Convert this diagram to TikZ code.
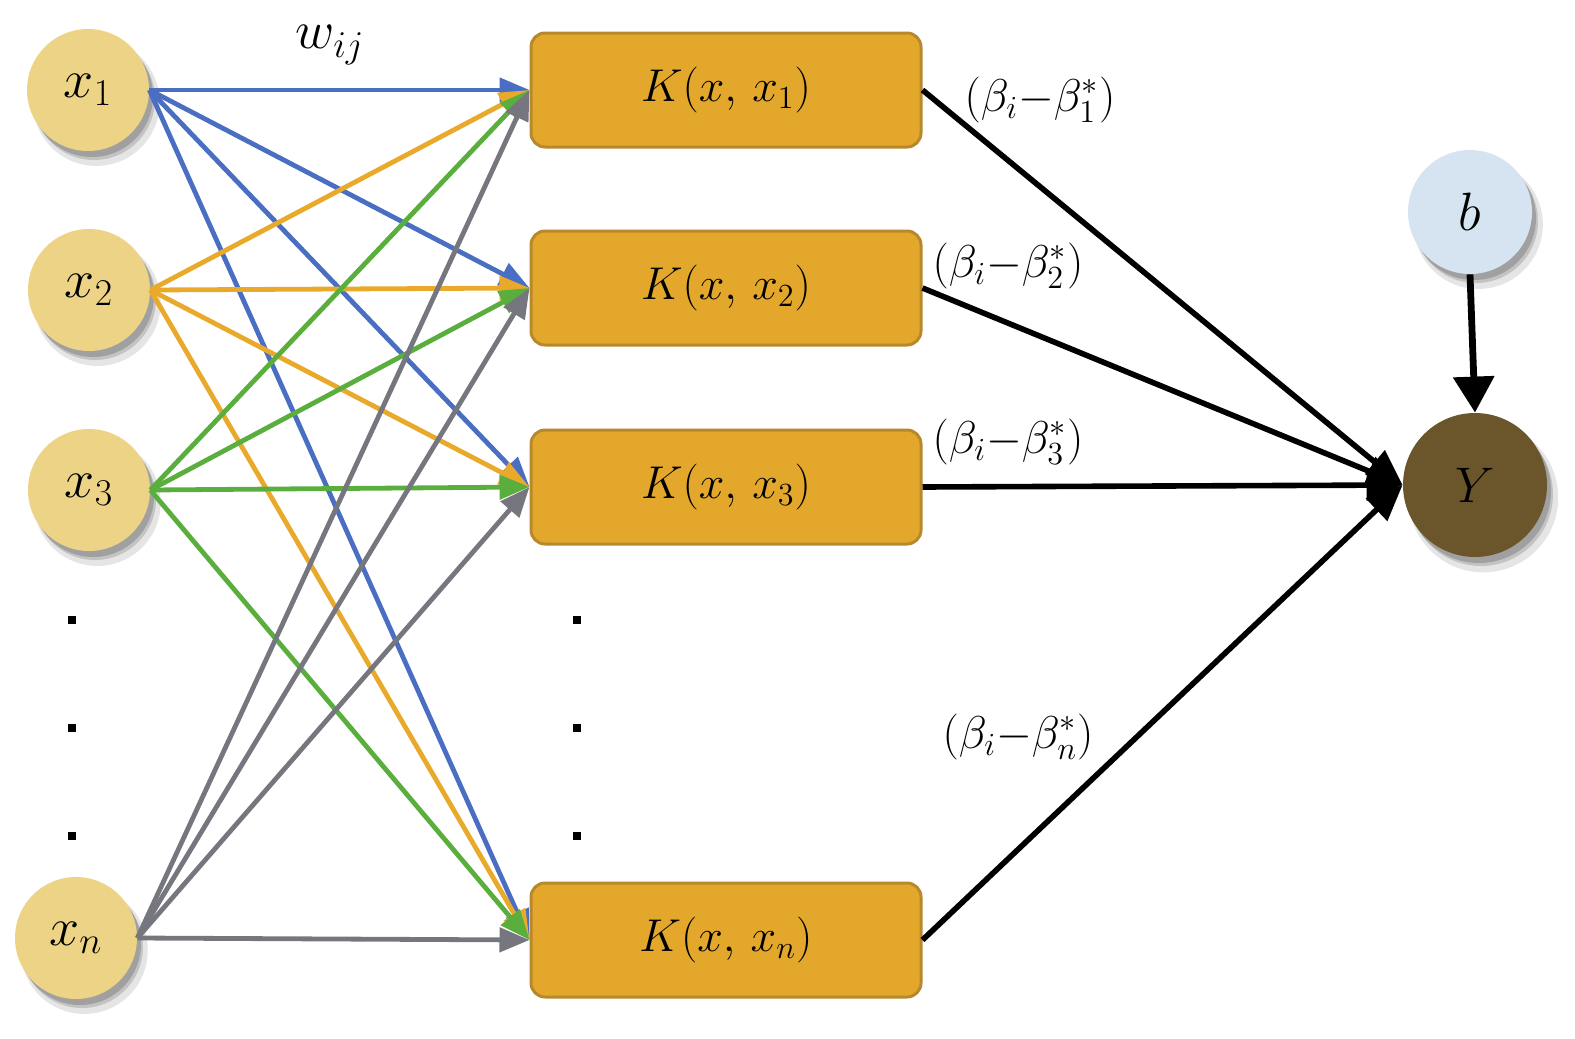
\RequirePackage{fix-cm}
\documentclass[tikz,border=0pt]{standalone}
\usetikzlibrary{arrows.meta,shadows}
\definecolor{inC}{HTML}{EDD385}
\definecolor{boxC}{HTML}{E3A82B}
\definecolor{boxB}{HTML}{B8892C}
\definecolor{yC}{HTML}{6B552A}
\definecolor{bC}{HTML}{D5E4F0}
\definecolor{eBlue}{HTML}{4A6EC2}
\definecolor{eOrange}{HTML}{E9A92B}
\definecolor{eGreen}{HTML}{5AAE3D}
\definecolor{eGrey}{HTML}{76767E}
\tikzset{
  soft/.style={drop shadow={shadow xshift=4pt,shadow yshift=-6pt,opacity=0.10,fill=black,shadow scale=1.04},
               drop shadow={shadow xshift=3pt,shadow yshift=-4.5pt,opacity=0.15,fill=black},
               drop shadow={shadow xshift=2pt,shadow yshift=-3pt,opacity=0.18,fill=black}},
  innode/.style={circle,fill=inC,minimum size=61pt,inner sep=0pt,soft,font=\fontsize{27}{32}\selectfont},
  knode/.style={rectangle,rounded corners=7pt,fill=boxC,draw=boxB,line width=1.5pt,
                minimum width=195pt,minimum height=57pt,inner sep=0pt},
  ynode/.style={circle,fill=yC,minimum size=72pt,inner sep=0pt,soft,font=\fontsize{25}{30}\selectfont},
  bnode/.style={circle,fill=bC,minimum size=62pt,inner sep=0pt,soft,font=\fontsize{27}{32}\selectfont},
  edge/.style={line width=2.4pt,-{Triangle[length=15pt,width=12pt]}},
  bedge/.style={line width=2.8pt,black,-{Triangle[length=18pt,width=15pt]}},
  lbl/.style={inner sep=0pt},
  dotm/.style={fill=black,minimum size=4pt,inner sep=0pt,rectangle},
}
\begin{document}
\begin{tikzpicture}[x=0.5pt,y=-0.5pt,font=\fontsize{23}{28}\selectfont]
\useasboundingbox (0,0) rectangle (1575,1039);
% input nodes
\node[innode] (x1) at (88,90) {$x_1$};
\node[innode] (x2) at (89,290) {$x_2$};
\node[innode] (x3) at (89,490) {$x_3$};
\node[innode] (xn) at (76,938) {$x_n$};
% kernel boxes
\node[knode] (K1) at (726,90) {$K(x,\,x_1)$};
\node[knode] (K2) at (726,288) {$K(x,\,x_2)$};
\node[knode] (K3) at (726,487) {$K(x,\,x_3)$};
\node[knode] (Kn) at (726,940) {$K(x,\,x_n)$};
% output and bias
\node[bnode] (b) at (1470,212) {$b$};
\node[ynode] (Y) at (1475,485) {$Y$};
% dots
\foreach \yy [count=\i] in {620,728,836}{
  \node[dotm] (dl\i) at (72,\yy) {};
  \node[dotm] (dm\i) at (577,\yy) {};
}
% weight edges
\foreach \s/\c in {x1/eBlue,x2/eOrange,x3/eGreen,xn/eGrey}{
  \foreach \t in {K1,K2,K3,Kn}{
    \draw[edge,\c] (\s.east) -- (\t.west);
  }
}
% output edges
\draw[bedge] (K1.east) -- (Y.west);
\draw[bedge] (K2.east) -- (Y.west);
\draw[bedge] (K3.east) -- (Y.west);
\draw[bedge] (Kn.east) -- (Y.west);
\draw[bedge,line width=3.4pt,-{Triangle[length=18pt,width=20pt]}] (b.south) -- (Y.north);
% labels
\node[lbl,font=\fontsize{27}{32}\selectfont] (w) at (330,45) {$w_{ij}$};
\node[lbl] (l1) at (1040,100) {$(\beta_i{-}\beta_1^*)$};
\node[lbl] (l2) at (1008,266) {$(\beta_i{-}\beta_2^*)$};
\node[lbl] (l3) at (1008,442) {$(\beta_i{-}\beta_3^*)$};
\node[lbl] (ln) at (1018,737) {$(\beta_i{-}\beta_n^*)$};
\end{tikzpicture}
\end{document}
